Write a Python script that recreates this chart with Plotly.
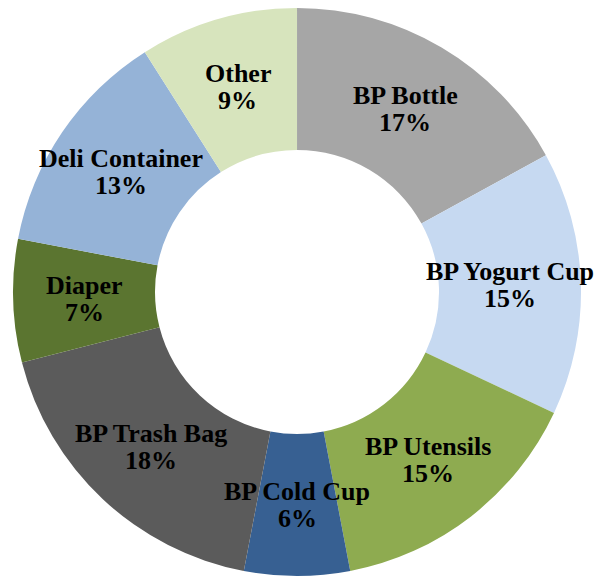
import math
import plotly.graph_objects as go

# Share of items by category (percent), clockwise from 12 o'clock
categories = ["BP Bottle", "BP Yogurt Cup", "BP Utensils", "BP Cold Cup",
              "BP Trash Bag", "Diaper", "Deli Container", "Other"]
shares = [17, 15, 15, 6, 18, 7, 13, 9]
colors = ["#a6a6a6", "#c6d9f1", "#8eab50", "#376092",
          "#5b5b5b", "#5b7530", "#95b3d7", "#d7e4bd"]

W, H = 595, 578
HOLE = 0.5
# pie domain (paper fractions)
dom_x = [0.0219, 0.9765]
dom_y = [0.0035, 0.9862]

fig = go.Figure(go.Pie(
    labels=categories,
    values=shares,
    sort=False,
    direction="clockwise",
    rotation=0,
    hole=HOLE,
    marker=dict(colors=colors, line=dict(width=0)),
    textinfo="none",
    hoverinfo="label+percent",
    domain=dict(x=dom_x, y=dom_y),
    showlegend=False,
))

# Labels centred in the ring at each slice's mid-angle (two tight lines)
cx = (dom_x[0] + dom_x[1]) / 2 * W
cy = (dom_y[0] + dom_y[1]) / 2 * H
r_out = min((dom_x[1] - dom_x[0]) * W, (dom_y[1] - dom_y[0]) * H) / 2
r_lab = r_out * (1 + HOLE) / 2
total = sum(shares)
label_font = dict(family="Liberation Serif, Times New Roman, serif",
                  size=26, color="#000000", weight="bold")
LINE_GAP = 27
cum = 0
for name, v in zip(categories, shares):
    mid = (cum + v / 2) / total * 2 * math.pi
    cum += v
    px = cx + r_lab * math.sin(mid)
    py = cy + r_lab * math.cos(mid)
    for txt, shift in ((name, LINE_GAP / 2),
                       (f"{round(v / total * 100)}%", -LINE_GAP / 2)):
        fig.add_annotation(
            x=px / W, y=py / H, xref="paper", yref="paper",
            xanchor="center", yanchor="middle", yshift=shift,
            text=txt, showarrow=False, font=label_font,
        )

fig.update_layout(
    width=W, height=H,
    margin=dict(l=0, r=0, t=0, b=0),
    paper_bgcolor="white",
    plot_bgcolor="white",
)

fig.write_html("out.html")
